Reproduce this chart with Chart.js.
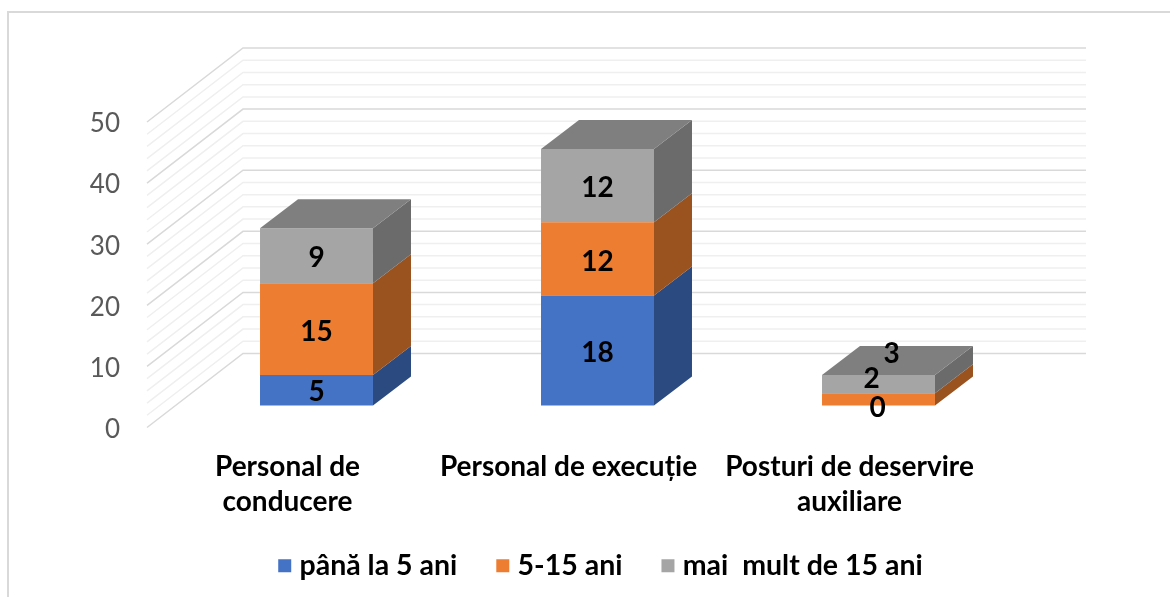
<!DOCTYPE html>
<html>
<head>
<meta charset="utf-8">
<title>Personal</title>
<script src="https://cdn.jsdelivr.net/npm/chart.js@4/dist/chart.umd.js"></script>
<style>
  html, body { margin: 0; padding: 0; background: #fff; }
  canvas { display: block; }
</style>
</head>
<body>
<canvas id="myChart" width="1170" height="597"></canvas>
<script>
// values
const categories = [["Personal de", "conducere"], "Personal de execuție", ["Posturi de deservire", "auxiliare"]];
const seriesNames = ["până la 5 ani", "5-15 ani", "mai  mult de 15 ani"];
const panaLa5 = [5, 18, 0];
const intre5si15 = [15, 12, 2];
const peste15 = [9, 12, 3];

const colors = ["#4472C4", "#ED7D31", "#A5A5A5"];
const sideColors = ["#2B4A80", "#9A521F", "#6B6B6B"];
const topColor = "#7F7F7F";

// depth of the floor and of the bars, in pixels
const wallDepth = { x: 96, y: -74 };
const barDepth = { x: 38, y: -29 };
// the third group has hand moved labels in the original: [dataset][category]
const labelShift = [[[0, 2], [0, 2], [-1, 2]], [[0, 3], [0, 3], [-7, -20]], [[0, 2], [0, 2], [13, -30]]];

const font = "Lato, 'Open Sans', sans-serif";

const wallsAndFrame = {
  id: "wallsAndFrame",
  afterLayout(chart) {
    // legend is centred on the whole canvas in the original, and the second
    // line of the tick labels reaches into the legend box
    chart.legend.left += 94;
    chart.legend.right += 94;
    chart.scales.x.bottom = chart.height;
  },
  beforeDatasetsDraw(chart) {
    const ctx = chart.ctx;
    const yFront = chart.scales.yFront;
    const left = chart.chartArea.left - 29;
    const right = chart.chartArea.right - 29 + wallDepth.x;
    ctx.save();
    // frame, only top and left are visible
    ctx.strokeStyle = "#D9D9D9";
    ctx.lineWidth = 2;
    ctx.beginPath();
    ctx.moveTo(8, 597);
    ctx.lineTo(8, 12);
    ctx.lineTo(1170, 12);
    ctx.stroke();
    yFront.ticks.forEach(t => {
      const y = yFront.getPixelForValue(t.value);
      ctx.strokeStyle = t.value % 10 === 0 ? "#D9D9D9" : "#EFEFEF";
      ctx.lineWidth = 1.5;
      ctx.beginPath();
      ctx.moveTo(left, y);
      ctx.lineTo(left + wallDepth.x, y + wallDepth.y);
      ctx.lineTo(right, y + wallDepth.y);
      ctx.stroke();
    });
    ctx.restore();
  }
};

const bars3d = {
  id: "bars3d",
  afterDatasetsDraw(chart) {
    const ctx = chart.ctx;
    const last = chart.data.datasets.length - 1;
    const poly = (pts, color) => {
      ctx.fillStyle = color;
      ctx.beginPath();
      pts.forEach((p, i) => i ? ctx.lineTo(p[0], p[1]) : ctx.moveTo(p[0], p[1]));
      ctx.closePath();
      ctx.fill();
    };
    ctx.save();
    chart.data.datasets.forEach((ds, d) => {
      chart.getDatasetMeta(d).data.forEach(bar => {
        const r = bar.x + bar.width / 2;
        const l = bar.x - bar.width / 2;
        const dx = barDepth.x, dy = barDepth.y;
        poly([[r, bar.y], [r + dx, bar.y + dy], [r + dx, bar.base + dy], [r, bar.base]], sideColors[d]);
        if (d === last) {
          poly([[l, bar.y], [l + dx, bar.y + dy], [r + dx, bar.y + dy], [r, bar.y]], topColor);
        }
      });
    });
    // value labels
    ctx.fillStyle = "#000";
    ctx.font = "700 28px " + font;
    ctx.textAlign = "center";
    ctx.textBaseline = "middle";
    chart.data.datasets.forEach((ds, d) => {
      chart.getDatasetMeta(d).data.forEach((bar, i) => {
        const s = labelShift[d][i];
        ctx.fillText(ds.data[i], bar.x + s[0], (bar.y + bar.base) / 2 + s[1]);
      });
    });
    ctx.restore();
  }
};

new Chart(document.getElementById("myChart").getContext("2d"), {
  type: "bar",
  data: {
    labels: categories,
    datasets: [
      { label: seriesNames[0], data: panaLa5, backgroundColor: colors[0] },
      { label: seriesNames[1], data: intre5si15, backgroundColor: colors[1] },
      { label: seriesNames[2], data: peste15, backgroundColor: colors[2] },
    ],
  },
  options: {
    responsive: false,
    animation: false,
    categoryPercentage: 0.402,
    barPercentage: 1,
    layout: { padding: { top: 122, right: 151, bottom: 7, left: 0 } },
    plugins: {
      tooltip: { enabled: false },
      legend: {
        position: "bottom",
        labels: {
          usePointStyle: true,
          pointStyle: "rect",
          boxWidth: 1,
          boxHeight: 13,
          padding: 45,
          color: "#000",
          font: { family: font, weight: "700", size: 28.5 },
        },
      },
    },
    scales: {
      x: {
        stacked: true,
        grid: { display: false },
        border: { display: false },
        ticks: {
          color: "#000",
          font: { family: font, weight: "700", size: 28, lineHeight: 1.25 },
          padding: 14,
          labelOffset: -29,
          maxRotation: 0,
          autoSkip: false,
        },
        afterFit(scale) { scale.height = 79; },
      },
      y: {
        stacked: true,
        display: false,
        min: -3.6,
        max: 46.4,
      },
      // front plane of the box, this one carries the visible numbers
      yFront: {
        position: "left",
        min: 0,
        max: 50,
        grid: { display: false, drawTicks: false },
        border: { display: false },
        ticks: {
          stepSize: 2,
          autoSkip: false,
          padding: 56,
          labelOffset: 2,
          color: "#595959",
          font: { family: font, size: 26 },
          callback: v => (v % 10 === 0 ? v : ""),
        },
        afterFit(scale) { scale.width = 176; },
      },
    },
  },
  plugins: [wallsAndFrame, bars3d],
});
</script>
</body>
</html>
